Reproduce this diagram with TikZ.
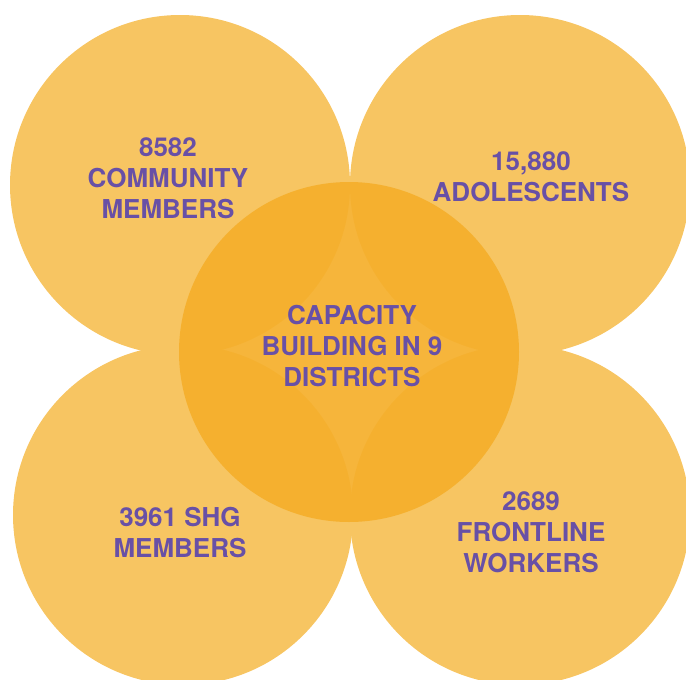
\documentclass[tikz,border=0pt]{standalone}
\usepackage{fontspec}
\setmainfont{TeX Gyre Heros}
\usetikzlibrary{positioning}

\definecolor{petalfill}{RGB}{247,197,98}
\definecolor{corefill}{RGB}{245,175,44}
\definecolor{statink}{RGB}{104,80,166}

\begin{document}
\begin{tikzpicture}[x=1pt, y=-1pt,
        petal/.style={circle, fill=petalfill, minimum size=340pt, inner sep=0pt},
        core/.style={circle, fill=corefill, fill opacity=0.93, minimum size=340pt, inner sep=0pt},
        stattext/.style={align=center, text=statink, font=\bfseries\fontsize{26}{31}\selectfont}]
        \useasboundingbox (0,0) rectangle (686,680);

        \node[petal] (top left)     at (180,185) {};
        \node[petal] (top right)    at (520,185) {};
        \node[petal] (bottom left)  at (183,515) {};
        \node[petal] (bottom right) at (520,515) {};
        \node[core]  (hub)          at (349,352) {};

        \node[stattext] (community)  at (168,178)   {8582\\COMMUNITY\\MEMBERS};
        \node[stattext] (adolescent) at (531,176.5) {15,880\\ADOLESCENTS};
        \node[stattext] (capacity)   at (352,346)   {CAPACITY\\BUILDING IN 9\\DISTRICTS};
        \node[stattext] (shg)        at (180,533)   {3961 SHG\\MEMBERS};
        \node[stattext] (frontline)  at (531,532.5) {2689\\FRONTLINE\\WORKERS};
    \end{tikzpicture}
\end{document}
